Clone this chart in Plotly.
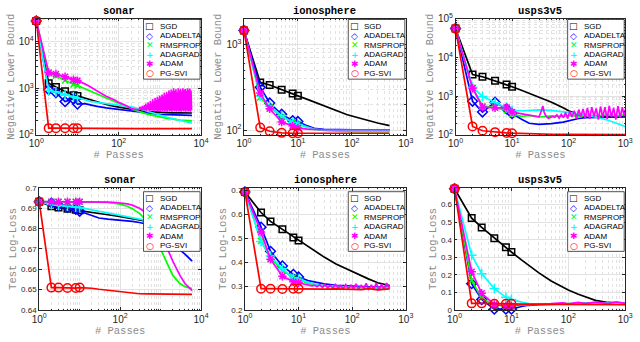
import plotly.graph_objects as go

# methods, in the order MATLAB drew them (PG-SVI ends up on top)
METHODS = ['SGD', 'ADADELTA', 'RMSPROP', 'ADAGRAD', 'ADAM', 'PG-SVI']
COLORS = ['#000000', '#0000ff', '#00ff00', '#00ffff', '#ff00ff', '#ff0000']
SYMBOLS = ['square-open', 'diamond-open', 'x-thin-open', 'cross-thin-open',
           'asterisk-open', 'circle-open']
SIZES = [6.5, 7.5, 6, 7, 7, 8.5]
GLYPHS = ['\u25a1', '\u25c7', '\u2715', '+', '\u2731', '\u25cb']
MARKED = 6  # markers only on passes 1, 2, 3, 5, 8, 10

# ---------------- sonar ----------------
SONAR_X = [1, 2, 3, 5, 8, 10, 15, 20, 30, 50, 80, 100, 150, 200, 300, 500,
           800, 1000, 1500, 2000, 3000, 4000, 6000]

SONAR_NLB_SGD = [28000, 1290, 1070, 870, 710, 690, 620, 570, 510, 450, 410, 395,
                 370, 355, 335, 318, 308, 304, 301, 299, 298, 297, 296]
SONAR_NLB_ADADELTA = [28000, 940, 810, 520, 590, 460, 470, 440, 410, 380, 360, 350,
                      335, 320, 305, 292, 282, 277, 272, 268, 265, 263, 262]
SONAR_NLB_RMSPROP = [28000, 2080, 1870, 1470, 1210, 1150, 1000, 900, 760, 620, 520,
                     470, 410, 370, 320, 280, 250, 245, 226, 222, 208, 206, 200]
SONAR_NLB_ADAGRAD = [28000, 910, 840, 740, 660, 610, 560, 530, 500, 470, 450, 440,
                     420, 400, 370, 320, 285, 265, 240, 225, 205, 190, 178]
SONAR_NLB_ADAM = [28000, 2190, 2030, 1780, 1540, 1470, 1250, 1100, 880, 680, 560,
                  500, 430, 370, 345]
SONAR_NLB_ADAM_TAIL_X = [
    320, 330, 341, 352, 364, 376, 388, 401, 414, 428,
    442, 456, 471, 487, 503, 519, 536, 554, 572, 591,
    610, 630, 651, 672, 694, 717, 741, 765, 790, 816,
    843, 871, 900, 929, 960, 991, 1024, 1058, 1092, 1128,
    1166, 1204, 1243, 1284, 1327, 1370, 1415, 1462, 1510, 1560,
    1611, 1664, 1719, 1776, 1834, 1894, 1957, 2021, 2088, 2156,
    2227, 2301, 2376, 2455, 2535, 2619, 2705, 2794, 2886, 2981,
    3079, 3180, 3285, 3393, 3505, 3620, 3739, 3862, 3990, 4121,
    4257, 4397, 4541, 4691, 4845, 5005, 5169, 5339, 5515, 5697,
    5884]
SONAR_NLB_ADAM_TAIL = [
    360, 400, 345, 390, 340, 420, 350, 410, 335, 440,
    345, 470, 330, 430, 350, 500, 335, 460, 325, 540,
    345, 480, 330, 580, 340, 520, 320, 620, 345, 560,
    330, 660, 320, 600, 340, 700, 315, 640, 345, 740,
    325, 680, 340, 800, 320, 720, 335, 850, 315, 760,
    340, 900, 320, 820, 330, 950, 315, 870, 345, 1000,
    320, 880, 335, 960, 315, 820, 340, 1000, 320, 900,
    330, 980, 315, 860, 340, 1000, 320, 920, 335, 970,
    315, 880, 340, 1000, 320, 930, 330, 990, 315, 900,
    340]
SONAR_NLB_PGSVI = [28000, 140, 140, 139, 139, 139, 138, 138, 138, 137, 137, 137,
                   137, 136, 136, 136, 136, 136, 136, 136, 136, 136, 136]

SONAR_LL_SGD = [0.6932, 0.6910, 0.6903, 0.6897, 0.6893, 0.6890, 0.6885, 0.6880,
                0.6875, 0.6868, 0.6862, 0.6858, 0.6852, 0.6848, 0.6842, 0.6834,
                0.6824, 0.6818, 0.6800, 0.6780, None, None, None]
SONAR_LL_ADADELTA = [0.6932, 0.6925, 0.6915, 0.6905, 0.6895, 0.6885, 0.6872, 0.6862,
                     0.6852, 0.6846, 0.6843, 0.6841, 0.6838, 0.6835, 0.6830, 0.6820,
                     0.6805, 0.6795, 0.6760, 0.6717, 0.6695, 0.6675, 0.6640]
SONAR_LL_RMSPROP = [0.6932, 0.6932, 0.6932, 0.6932, 0.6932, 0.6932, 0.6932, 0.6931,
                    0.6930, 0.6928, 0.6924, 0.6920, 0.6910, 0.6898, 0.6875, 0.6830,
                    0.6740, 0.6700, 0.6620, 0.6570, 0.6530, 0.6515, 0.6505]
SONAR_LL_ADAGRAD = [0.6932, 0.6918, 0.6914, 0.6910, 0.6906, 0.6903, 0.6897, 0.6892,
                    0.6886, 0.6878, 0.6870, 0.6866, 0.6860, 0.6855, 0.6848, 0.6838,
                    0.6825, 0.6815, 0.6790, 0.6760, None, None, None]
SONAR_LL_ADAM = [0.6932, 0.6932, 0.6932, 0.6932, 0.6932, 0.6932, 0.6932, 0.6932,
                 0.6931, 0.6930, 0.6928, 0.6926, 0.6921, 0.6915, 0.6900, 0.6870,
                 0.6815, 0.6780, 0.6700, 0.6640, 0.6570, 0.6530, 0.6495]
SONAR_LL_PGSVI = [0.6932, 0.6510, 0.6510, 0.6508, 0.6508, 0.6510, 0.6509, 0.6507,
                  0.6502, 0.6497, 0.6492, 0.6490, 0.6486, 0.6483, 0.6480, 0.6479,
                  0.6478, 0.6478, 0.6478, 0.6477, 0.6477, 0.6477, 0.6477]

# ---------------- ionosphere ----------------
ION_X = [1, 2, 3, 5, 8, 10, 15, 20, 30, 50, 80, 100, 150, 200, 300, 500]

ION_NLB_SGD = [1450, 360, 336, 295, 267, 251, 228, 212, 195, 170, 152, 146, 136,
               129, 121, 113]
ION_NLB_ADADELTA = [1450, 316, 207, 153, 129, 126, 112, 105, 102, 101, 100, 100,
                    100, 100, 100, 100]
ION_NLB_RMSPROP = [1450, 240, 185, 144, 124, 118, 108, 102, 99, 97, 96, 96, 96,
                   96, 96, 96]
ION_NLB_ADAGRAD = [1450, 250, 190, 147, 122, 116, 108, 103, 100, 99, 98, 98, 98,
                   98, 98, 98]
ION_NLB_ADAM = [1450, 270, 177, 124, 112, 106, 103, 102, 101, 101, 101, 101, 101,
                101, 101, 101]
ION_NLB_PGSVI = [1450, 107, 97, 93, 92, 92, 92, 92, 92, 92, 92, 92, 92, 92, 92, 92]

ION_LL_SGD = [0.693, 0.607, 0.570, 0.537, 0.503, 0.490, 0.465, 0.445, 0.421, 0.392,
              0.370, 0.360, 0.342, 0.330, 0.314, 0.302]
ION_LL_ADADELTA = [0.693, 0.546, 0.445, 0.384, 0.349, 0.338, 0.323, 0.316, 0.309,
                   0.303, 0.300, 0.299, 0.298, 0.297, 0.296, 0.295]
ION_LL_RMSPROP = [0.693, 0.488, 0.418, 0.365, 0.338, 0.325, 0.312, 0.306, 0.301,
                  0.297, 0.295, 0.294, 0.293, 0.292, 0.292, 0.291]
ION_LL_ADAGRAD = [0.693, 0.486, 0.425, 0.372, 0.334, 0.328, 0.315, 0.308, 0.302,
                  0.298, 0.296, 0.295, 0.294, 0.293, 0.293, 0.292]
ION_LL_ADAM = [0.693, 0.526, 0.412, 0.341, 0.318, 0.314]
ION_LL_ADAM_TAIL_X = [12, 14, 16, 18, 20, 22, 25, 28, 31, 35, 39, 44, 49, 55, 61, 68,
                      76, 85, 95, 106, 118, 132, 147, 164, 183, 204, 228, 254, 283,
                      316, 352, 393, 438, 500]
ION_LL_ADAM_TAIL = [0.310, 0.306, 0.303, 0.301, 0.304, 0.297, 0.305, 0.294, 0.306,
                    0.293, 0.303, 0.291, 0.307, 0.292, 0.302, 0.289, 0.306, 0.290,
                    0.304, 0.288, 0.309, 0.286, 0.303, 0.290, 0.311, 0.284, 0.305,
                    0.288, 0.313, 0.283, 0.308, 0.286, 0.312, 0.290]
ION_LL_PGSVI = [0.693, 0.289, 0.289, 0.288, 0.289, 0.289, 0.288, 0.288, 0.287,
                0.288, 0.286, 0.288, 0.285, 0.289, 0.284, 0.288]

# ---------------- usps3v5 ----------------
USPS_X = [1, 2, 3, 5, 8, 10, 15, 20, 30, 50, 80, 100, 150, 200, 300, 500, 700, 1000]

USPS_NLB_SGD = [55000, 3600, 3170, 2480, 1990, 1750, 1400, 1200, 960, 700, 500,
                420, 330, 305, 300, 300, 300, 300]
USPS_NLB_ADADELTA = [55000, 740, 390, 700, 470, 355, 250, 200, 188, 195, 215, 235,
                     265, 280, 285, 290, 290, 290]
USPS_NLB_RMSPROP = [55000, 1650, 560, 510, 425, 340, 300, 320, 290, 310, 295, 320,
                    300, 325, 305, 330, 310, 330]
USPS_NLB_ADAGRAD = [55000, 1700, 980, 680, 510, 425, 420, 430, 440, 430, 400, 380,
                    350, 320, 290, 240, 200, 165]
USPS_NLB_ADAM = [55000, 1600, 520, 500, 510, 390, 350, 320, 295]
USPS_NLB_ADAM_TAIL_X = [33, 35, 37, 40, 44, 48, 52, 57, 62, 68, 74, 81, 88, 96, 105,
                        115, 126, 138, 151, 165, 180, 197, 215, 235, 257, 281, 307,
                        336, 367, 401, 438, 479, 523, 572, 625, 683, 746, 815, 891,
                        960, 1000]
USPS_NLB_ADAM_TAIL = [420, 560, 380, 300, 270, 290, 300, 285, 330, 270, 340, 280,
                      380, 265, 400, 290, 420, 260, 450, 300, 470, 270, 500, 260,
                      520, 300, 480, 250, 540, 280, 520, 260, 560, 290, 500, 250,
                      550, 280, 520, 300, 450]
USPS_NLB_PGSVI = [55000, 165, 128, 118, 113, 111, 108, 106, 105, 104, 103, 103,
                  102, 102, 102, 102, 102, 102]

USPS_LL_SGD = [0.69, 0.523, 0.470, 0.409, 0.357, 0.330, 0.285, 0.255, 0.213, 0.165,
               0.130, 0.114, 0.090, 0.075, 0.055, 0.043, 0.040, 0.038]
USPS_LL_ADADELTA = [0.69, 0.150, 0.060, 0.005, 0.005, 0.005, 0.020, 0.027, 0.030,
                    0.033, 0.035, 0.036, 0.037, 0.038, 0.039, 0.040, 0.040, 0.040]
USPS_LL_RMSPROP = [0.69, 0.168, 0.068, 0.027, 0.023, 0.023, 0.028, 0.031, 0.033,
                   0.035, 0.036, 0.037, 0.038, 0.038, 0.039, 0.039, 0.040, 0.040]
USPS_LL_ADAGRAD = [0.69, 0.312, 0.207, 0.122, 0.072, 0.060, 0.045, 0.036, 0.034,
                   0.035, 0.036, 0.037, 0.037, 0.038, 0.038, 0.039, 0.039, 0.040]
USPS_LL_ADAM = [0.69, 0.218, 0.095, 0.032, 0.023, 0.023, 0.030, 0.033, 0.034, 0.036,
                0.041, 0.035, 0.043, 0.036, 0.045, 0.037, 0.046, 0.038]
USPS_LL_PGSVI = [0.69, 0.038, 0.038, 0.036, 0.036, 0.036, 0.034, 0.033, 0.032,
                 0.032, 0.031, 0.031, 0.031, 0.030, 0.030, 0.030, 0.030, 0.030]


def same_x(xs, *ys_list):
    return [(xs, ys) for ys in ys_list]


panels = [
    dict(title='sonar', ylabel='Negative Lower Bound', ylog=True,
         xr=[0, 4], xdtick=2, yr=[2, 4.5], ydtick=1,
         series=same_x(SONAR_X, SONAR_NLB_SGD, SONAR_NLB_ADADELTA,
                       SONAR_NLB_RMSPROP, SONAR_NLB_ADAGRAD)
         + [(SONAR_X[:15] + SONAR_NLB_ADAM_TAIL_X,
             SONAR_NLB_ADAM + SONAR_NLB_ADAM_TAIL),
            (SONAR_X, SONAR_NLB_PGSVI)]),
    dict(title='ionosphere', ylabel='Negative Lower Bound', ylog=True,
         xr=[0, 3], xdtick=1, yr=[1.944, 3.30], ydtick=1,
         series=same_x(ION_X, ION_NLB_SGD, ION_NLB_ADADELTA, ION_NLB_RMSPROP,
                       ION_NLB_ADAGRAD, ION_NLB_ADAM, ION_NLB_PGSVI)),
    dict(title='usps3v5', ylabel='Negative Lower Bound', ylog=True,
         xr=[0, 3], xdtick=1, yr=[2, 5], ydtick=1,
         series=same_x(USPS_X, USPS_NLB_SGD, USPS_NLB_ADADELTA, USPS_NLB_RMSPROP,
                       USPS_NLB_ADAGRAD)
         + [(USPS_X[:9] + USPS_NLB_ADAM_TAIL_X, USPS_NLB_ADAM + USPS_NLB_ADAM_TAIL),
            (USPS_X, USPS_NLB_PGSVI)]),
    dict(title='sonar', ylabel='Test Log-Loss', ylog=False,
         xr=[0, 4], xdtick=2, yr=[0.64, 0.70], ydtick=0.01,
         series=same_x(SONAR_X, SONAR_LL_SGD, SONAR_LL_ADADELTA, SONAR_LL_RMSPROP,
                       SONAR_LL_ADAGRAD, SONAR_LL_ADAM, SONAR_LL_PGSVI)),
    dict(title='ionosphere', ylabel='Test Log-Loss', ylog=False,
         xr=[0, 3], xdtick=1, yr=[0.2, 0.71], ydtick=0.1,
         series=same_x(ION_X, ION_LL_SGD, ION_LL_ADADELTA, ION_LL_RMSPROP,
                       ION_LL_ADAGRAD)
         + [(ION_X[:6] + ION_LL_ADAM_TAIL_X, ION_LL_ADAM + ION_LL_ADAM_TAIL),
            (ION_X, ION_LL_PGSVI)]),
    dict(title='usps3v5', ylabel='Test Log-Loss', ylog=False,
         xr=[0, 3], xdtick=1, yr=[0, 0.695], ydtick=0.1,
         series=same_x(USPS_X, USPS_LL_SGD, USPS_LL_ADADELTA, USPS_LL_RMSPROP,
                       USPS_LL_ADAGRAD, USPS_LL_ADAM, USPS_LL_PGSVI)),
]

# panel boxes in pixels: (left, right, top, bottom)
W, H = 640, 342
BOXES = [(29, 198, 12, 133), (242, 408, 12, 133), (459, 633, 12, 133),
         (32, 198, 188, 315), (243, 408, 188, 315), (458, 633, 188, 315)]

AX_COLOR = '#262626'
GRID = '#e2e2e2'
TICK_FONT = dict(family='Liberation Sans', size=8, color=AX_COLOR)
LABEL_FONT = dict(family='Liberation Mono', size=10.5, color='#8c8c8c')
# plotly writes 10^0 and 10^1 as "1" and "10"; MATLAB keeps the power form
POWER_ALIAS = {'1': '10<sup>0</sup>', '10': '10<sup>1</sup>'}

fig = go.Figure()
layout = {}
shapes = []
annotations = []

for i, (p, box) in enumerate(zip(panels, BOXES), start=1):
    xa = 'x' if i == 1 else f'x{i}'
    ya = 'y' if i == 1 else f'y{i}'
    left, right, top, bottom = box

    for m, (xs, ys) in enumerate(p['series']):
        fig.add_trace(go.Scatter(
            x=xs, y=ys, mode='lines', xaxis=xa, yaxis=ya, showlegend=False,
            line=dict(color=COLORS[m], width=1.7), name=METHODS[m]))
        fig.add_trace(go.Scatter(
            x=xs[:MARKED], y=ys[:MARKED], mode='markers', xaxis=xa, yaxis=ya,
            showlegend=False, cliponaxis=False, name=METHODS[m],
            marker=dict(symbol=SYMBOLS[m], size=SIZES[m], color=COLORS[m],
                        line=dict(color=COLORS[m], width=1.5))))

    common = dict(showline=True, mirror='ticks', linecolor=AX_COLOR, linewidth=0.8,
                  ticks='inside', ticklen=3, tickcolor=AX_COLOR, tickwidth=0.8,
                  tickfont=TICK_FONT, showgrid=True, gridcolor=GRID, gridwidth=0.8,
                  zeroline=False)
    minor = dict(showgrid=True, gridcolor=GRID, griddash='dot', gridwidth=0.8,
                 ticks='inside', ticklen=1.5, tickcolor=AX_COLOR, dtick='D1')

    layout['xaxis' if i == 1 else f'xaxis{i}'] = dict(
        common, type='log', range=p['xr'], dtick=p['xdtick'],
        exponentformat='power', labelalias=POWER_ALIAS, minor=minor, anchor=ya,
        domain=[left / W, right / W],
        title=dict(text='# Passes', font=LABEL_FONT, standoff=0))
    yax = dict(common, range=p['yr'], dtick=p['ydtick'], anchor=xa,
               domain=[1 - bottom / H, 1 - top / H],
               title=dict(text=p['ylabel'], font=LABEL_FONT, standoff=2))
    if p['ylog']:
        yax.update(type='log', exponentformat='power', minor=minor)
    elif p['yr'][0] == 0:
        yax.update(tickvals=[0, 0.1, 0.2, 0.3, 0.4, 0.5, 0.6])
    layout['yaxis' if i == 1 else f'yaxis{i}'] = yax

    # title
    annotations.append(dict(
        text=f"<b>{p['title']}</b>", x=0.5, y=1, xref=f'{xa} domain',
        yref=f'{ya} domain', xanchor='center', yanchor='bottom', yshift=0,
        showarrow=False, font=dict(family='Liberation Mono', size=10.5,
                                   color='#000000')))

    # MATLAB-style legend box, top-right inside the axes
    pw, ph = right - left, bottom - top
    inset_top = 1 if i <= 3 else 4
    lw, lh = 58, 62
    x1 = 1 - 1 / pw
    x0 = x1 - lw / pw
    y1 = 1 - inset_top / ph
    y0 = y1 - lh / ph
    shapes.append(dict(type='rect', xref=f'{xa} domain', yref=f'{ya} domain',
                       x0=x0, x1=x1, y0=y0, y1=y1, layer='above',
                       fillcolor='white', line=dict(color=AX_COLOR, width=0.8)))
    for k, name in enumerate(METHODS):
        yk = y1 - (7 + 9.8 * k) / ph
        annotations.append(dict(
            text=f'<b>{GLYPHS[k]}</b>', x=x0 + 6.5 / pw, y=yk,
            xref=f'{xa} domain', yref=f'{ya} domain', xanchor='center',
            yanchor='middle', showarrow=False, borderpad=0,
            font=dict(family='DejaVu Sans', size=9, color=COLORS[k])))
        annotations.append(dict(
            text=name, x=x0 + 15.5 / pw, y=yk, xref=f'{xa} domain',
            yref=f'{ya} domain', xanchor='left', yanchor='middle',
            showarrow=False, borderpad=0,
            font=dict(family='Liberation Sans', size=8, color='#000000')))

fig.update_layout(
    width=W, height=H, margin=dict(l=0, r=0, t=0, b=0),
    paper_bgcolor='white', plot_bgcolor='white', showlegend=False,
    shapes=shapes, annotations=annotations, **layout)

# the page body has a default 8px margin; drop it so the figure fills the window
fig.write_html('out.html', config={'displayModeBar': False},
               post_script="document.body.style.margin='0';")
